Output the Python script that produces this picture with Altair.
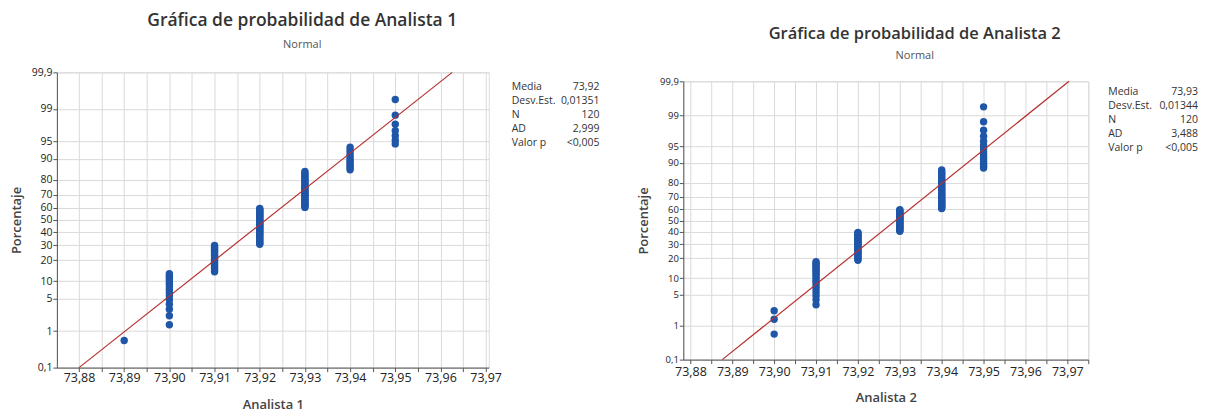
import altair as alt
import pandas as pd
from statistics import NormalDist

FONT = "Open Sans"
BLUE = "#1f56a8"
RED = "#b5312f"

# ---------------- data ----------------
a1_levels = [73.89, 73.90, 73.91, 73.92, 73.93, 73.94, 73.95]
a1_counts = [1, 15, 20, 36, 30, 11, 7]
a1_fit_pct = [0.1, 99.9]
a1_fit_x = [73.880, 73.9626]
a1_stat_values = ["73,92", "0,01351", "120", "2,999", "<0,005"]

a2_levels = [73.90, 73.91, 73.92, 73.93, 73.94, 73.95]
a2_counts = [3, 19, 26, 24, 33, 15]
a2_fit_pct = [0.1, 99.9]
a2_fit_x = [73.8876, 73.9704]
a2_stat_values = ["73,93", "0,01344", "120", "3,488", "<0,005"]

stat_names = ["Media", "Desv.Est.", "N", "AD", "Valor p"]

pct_ticks = [0.1, 1, 5, 10, 20, 30, 40, 50, 60, 70, 80, 90, 95, 99, 99.9]
pct_labels = ["0,1", "1", "5", "10", "20", "30", "40", "50", "60", "70",
              "80", "90", "95", "99", "99,9"]
x_ticks = [73.88, 73.885, 73.89, 73.895, 73.90, 73.905, 73.91, 73.915, 73.92,
           73.925, 73.93, 73.935, 73.94, 73.945, 73.95, 73.955, 73.96, 73.965,
           73.97, 73.975]

# ---------------- helpers ----------------
nd = NormalDist()
z_ticks = [nd.inv_cdf(p / 100) for p in pct_ticks]
zmin, zmax = z_ticks[0], z_ticks[-1]

ylabel_expr = ""
for i in range(len(z_ticks) - 1):
    mid = (z_ticks[i] + z_ticks[i + 1]) / 2
    ylabel_expr += f"datum.value < {mid:.5f} ? '{pct_labels[i]}' : "
ylabel_expr += f"'{pct_labels[-1]}'"

xlabel_expr = ("round(datum.value*1000) % 10 == 0 ? "
               "replace(format(datum.value, '.2f'), '.', ',') : ''")

NO_FRAME = alt.ViewBackground(stroke="transparent")


def title_block(title, W, T, title_x, title_y, sub_y, title_size):
    base = alt.Chart(pd.DataFrame({"t": [title], "s": ["Normal"]}))
    ttl = base.mark_text(font=FONT, fontSize=title_size, fontWeight=600,
                         color="#333333", align="center", baseline="top"
                         ).encode(text="t:N", x=alt.value(title_x), y=alt.value(title_y))
    sub = base.mark_text(font=FONT, fontSize=11, color="#555555",
                         align="center", baseline="top"
                         ).encode(text="s:N", x=alt.value(title_x), y=alt.value(sub_y))
    return alt.layer(ttl, sub).properties(width=W, height=T, view=NO_FRAME)


def panel(levels, counts, fit_pct, fit_x, stat_vals, xtitle,
          W, H, xdom, stat_x, stat_vx, stat_y, xtitle_y, label_pad, ylab_size):
    vals = [v for v, c in zip(levels, counts) for _ in range(c)]
    df = pd.DataFrame({"valor": vals})
    xv = [v for v in x_ticks if xdom[0] <= v <= xdom[1]]

    xaxis = alt.Axis(values=xv, tickCount=len(xv) + 5,
                     labelExpr=xlabel_expr, title=xtitle, grid=True,
                     gridColor="#dadada", gridWidth=1,
                     domainColor="#555555", tickColor="#555555", tickSize=4,
                     labelFont=FONT, labelFontSize=12.5, labelColor="#222222",
                     labelPadding=label_pad, labelFlush=False, labelOverlap=False,
                     titleFont=FONT, titleFontSize=13, titleFontWeight=600,
                     titleColor="#444444", titleY=xtitle_y,
                     titleBaseline="middle")
    yaxis = alt.Axis(values=z_ticks, tickCount=len(z_ticks) + 5,
                     labelExpr=ylabel_expr, title="Porcentaje",
                     grid=True, gridColor="#dadada", gridWidth=1,
                     domainColor="#555555", tickColor="#555555", tickSize=4,
                     labelFont=FONT, labelFontSize=ylab_size, labelColor="#222222",
                     labelPadding=1, labelOverlap=False, labelFlush=False,
                     titleFont=FONT, titleFontSize=13, titleFontWeight=600,
                     titleColor="#444444", titleX=-40, titleY=H / 2,
                     titleAngle=-90, titleBaseline="middle", titleAlign="center")

    xs = alt.Scale(domain=xdom, nice=False, zero=False)
    ys = alt.Scale(domain=[zmin, zmax], nice=False, zero=False)

    pts = (alt.Chart(df)
           .transform_window(rank="row_number()", sort=[alt.SortField("valor")])
           .transform_joinaggregate(n="count()")
           .transform_calculate(z="quantileNormal((datum.rank - 0.3) / (datum.n + 0.4))")
           .mark_circle(size=55, color=BLUE, opacity=1)
           .encode(x=alt.X("valor:Q", scale=xs, axis=xaxis),
                   y=alt.Y("z:Q", scale=ys, axis=yaxis)))

    line = (alt.Chart(pd.DataFrame({"pct": fit_pct, "valor": fit_x}))
            .transform_calculate(z="quantileNormal(datum.pct / 100)")
            .mark_line(color=RED, strokeWidth=1.2)
            .encode(x=alt.X("valor:Q", scale=xs), y=alt.Y("z:Q", scale=ys)))

    tdf = pd.DataFrame({"names": ["\n".join(stat_names)],
                        "vals": ["\n".join(stat_vals)]})
    base = alt.Chart(tdf)
    names = base.mark_text(font=FONT, fontSize=10.5, color="#333333",
                           align="left", baseline="top", lineBreak="\n",
                           lineHeight=14
                           ).encode(text="names:N", x=alt.value(stat_x), y=alt.value(stat_y))
    valt = base.mark_text(font=FONT, fontSize=10.5, color="#333333",
                          align="right", baseline="top", lineBreak="\n",
                          lineHeight=14
                          ).encode(text="vals:N", x=alt.value(stat_vx), y=alt.value(stat_y))
    return alt.layer(pts, line, names, valt).properties(width=W, height=H)


left = alt.vconcat(
    title_block("Gráfica de probabilidad de Analista 1", W=433, T=54,
                title_x=246, title_y=1, sub_y=28, title_size=17.5),
    panel(a1_levels, a1_counts, a1_fit_pct, a1_fit_x, a1_stat_values, "Analista 1",
          W=433, H=296, xdom=[73.8751, 73.9707],
          stat_x=456, stat_vx=544, stat_y=10, xtitle_y=37, label_pad=0,
          ylab_size=10.5),
    spacing=0)

right = alt.vconcat(
    title_block("Gráfica de probabilidad de Analista 2", W=406, T=63,
                title_x=232, title_y=15, sub_y=39, title_size=16.5),
    panel(a2_levels, a2_counts, a2_fit_pct, a2_fit_x, a2_stat_values, "Analista 2",
          W=406, H=279, xdom=[73.8783, 73.975],
          stat_x=426, stat_vx=516, stat_y=6, xtitle_y=38, label_pad=2,
          ylab_size=9.5),
    spacing=0)

chart = (alt.hconcat(left, right, spacing=36)
         .properties(padding={"left": 2, "top": 2, "right": 0, "bottom": 0})
         .configure_view(stroke="#8a8a8a", strokeWidth=1)
         .configure(font=FONT, background="white"))

chart.save("out.html", embed_options={"renderer": "svg", "actions": False})
